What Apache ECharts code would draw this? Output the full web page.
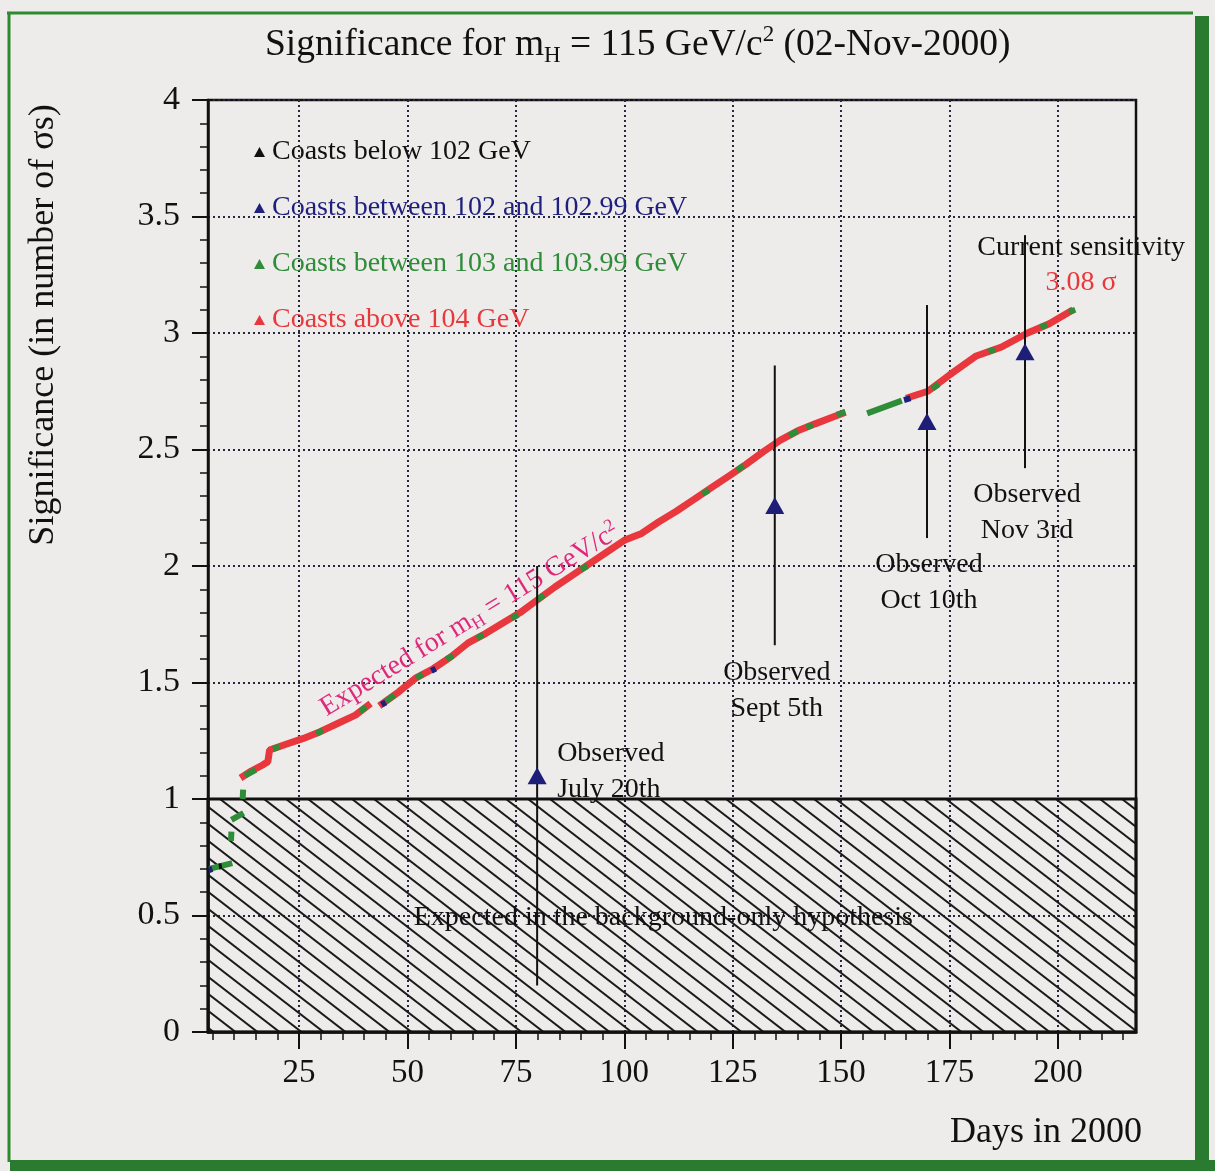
<!DOCTYPE html>
<html>
<head>
<meta charset="utf-8">
<script src="https://cdn.jsdelivr.net/npm/echarts@6/dist/echarts.min.js"></script>
<style>
html,body{margin:0;padding:0;background:#edecea;}
#c{width:1215px;height:1171px;}
</style>
</head>
<body>
<div id="c"></div>
<script>
// ---------------- DATA ----------------
const xMin = 4, xMax = 218;
const xTicks = [25, 50, 75, 100, 125, 150, 175, 200];
const xMinorTicks = [5,10,15,20,25,30,35,40,45,50,55,60,65,70,75,80,85,90,95,100,105,110,115,120,125,130,135,140,145,150,155,160,165,170,175,180,185,190,195,200,205,210,215];
const yMin = 0, yMax = 4, yStep = 0.5;

const seriesNames = ['Coasts below 102 GeV', 'Coasts between 102 and 102.99 GeV', 'Coasts between 103 and 103.99 GeV', 'Coasts above 104 GeV'];

// expected significance, coasts above 104 GeV (null = gap)
const redDays = [11.5, 14, 16.5, 17.8, 18.2, 22, 26, 30, 34, 38, 41.5, null, 43.5, 48, 52, 56, 60, 64, 68, 72, 76, 80, 84, 88, 92, 96, 100, 104, 108, 112, 116, 120, 124, 128, 132, 136, 140, 144, 147.5, 151, null, 165, 170, 175, 181, 187, 193, 198, 203.5];
const redSig  = [1.09, 1.12, 1.145, 1.16, 1.21, 1.235, 1.26, 1.29, 1.325, 1.36, 1.41, null, 1.40, 1.46, 1.52, 1.56, 1.61, 1.67, 1.71, 1.755, 1.80, 1.855, 1.91, 1.96, 2.01, 2.06, 2.11, 2.14, 2.19, 2.235, 2.285, 2.335, 2.385, 2.435, 2.49, 2.54, 2.58, 2.61, 2.635, 2.66, null, 2.72, 2.75, 2.82, 2.90, 2.94, 3.00, 3.04, 3.10];

// coasts between 103 and 103.99 GeV
const greenDays = [4.3, 9.6, null, 9.3, 9.4, null, 9.4, 12.2, null, 12.0, 12.1, null, 12.5, 15, null, 19, 20.5, null, 29, 30.5, null, 39, 40.5, null, 45, 47, null, 52, 53.5, null, 59, 60.5, null, 66, 67.5, null, 74, 75.5, null, 80, 81.5, null, 90, 91.5, null, 118, 119.5, null, 126, 127.5, null, 138, 140, null, 142, 143.5, null, 149, 151, null, 156, 164, null, 171, 172.5, null, 184, 185.5, null, 196, 197.5, null, 202.5, 204];
const greenSig  = [0.70, 0.725, null, 0.82, 0.86, null, 0.91, 0.94, null, 1.00, 1.04, null, 1.10, 1.125, null, 1.215, 1.225, null, 1.28, 1.295, null, 1.375, 1.395, null, 1.42, 1.445, null, 1.52, 1.535, null, 1.60, 1.615, null, 1.69, 1.705, null, 1.775, 1.79, null, 1.855, 1.875, null, 1.985, 2.0, null, 2.31, 2.325, null, 2.41, 2.43, null, 2.56, 2.58, null, 2.595, 2.605, null, 2.65, 2.66, null, 2.655, 2.71, null, 2.76, 2.78, null, 2.92, 2.93, null, 3.025, 3.035, null, 3.09, 3.10];

// coasts between 102 and 102.99 GeV
const blueDays = [4.2, 5.0, null, 44, 45, null, 55.5, 56.5, null, 164.5, 166];
const blueSig  = [0.695, 0.70, null, 1.405, 1.415, null, 1.55, 1.56, null, 2.712, 2.72];

// coasts below 102 GeV
const blackDays = [6.5, 7.2];
const blackSig  = [0.71, 0.712];

// observed significances with error bars
const obsDays   = [79.9, 134.7, 169.8, 192.4];
const obsSig    = [1.10, 2.26, 2.62, 2.92];
const obsErr    = [0.90, 0.60, 0.50, 0.50];
const obsLabels = ['July 20th', 'Sept 5th', 'Oct 10th', 'Nov 3rd'];

const currentSens = 3.08;
const bgBand = [0, 1];

// ---------------- STYLE ----------------
const FONT = '"Liberation Serif", "DejaVu Serif", serif';
const C_RED = '#e8383d', C_GREEN = '#2f8c38', C_BLUE = '#1f1f7d', C_BLACK = '#111111';
const GRID_LINE = {color: '#26263e', width: 2, type: [2, 3]};

function pairs(days, vals) {
  return days.map((d, i) => (d == null || vals[i] == null) ? ['-', '-'] : [d, vals[i]]);
}

function makeHatch() {
  const W = 22, H = 17;
  const c = document.createElement('canvas');
  c.width = W; c.height = H;
  const g = c.getContext('2d');
  g.strokeStyle = '#1a1a1a';
  g.lineWidth = 2;
  for (const dx of [-W, 0, W]) {
    g.beginPath();
    g.moveTo(dx - W, -H);
    g.lineTo(dx + 2 * W, 2 * H);
    g.stroke();
  }
  return c;
}

const chart = echarts.init(document.getElementById('c'), null, {renderer: 'canvas'});
const lastIdx = redDays.length - 1;

const option = {
  backgroundColor: '#edecea',
  animation: false,
  textStyle: {fontFamily: FONT},
  title: {
    text: '{a|Significance for m}{s|H}{a| = 115 GeV/c}{p|2}{a| (02-Nov-2000)}',
    left: 265, top: 23, padding: 0,
    textStyle: {
      fontWeight: 'normal',
      rich: {
        a: {fontSize: 37.5, fontFamily: FONT, fontWeight: 'normal', color: '#111', lineHeight: 44},
        s: {fontSize: 23, fontFamily: FONT, fontWeight: 'normal', color: '#111', lineHeight: 25, verticalAlign: 'bottom'},
        p: {fontSize: 23, fontFamily: FONT, fontWeight: 'normal', color: '#111', lineHeight: 25, verticalAlign: 'top'}
      }
    }
  },
  legend: {
    orient: 'vertical', left: 249, top: 133,
    icon: 'triangle', itemWidth: 11, itemHeight: 10, itemGap: 28,
    selectedMode: false,
    textStyle: {fontSize: 28, fontFamily: FONT, lineHeight: 28, padding: [0, 0, 0, 2]},
    data: [
      {name: seriesNames[0], textStyle: {color: C_BLACK}},
      {name: seriesNames[1], textStyle: {color: C_BLUE}},
      {name: seriesNames[2], textStyle: {color: C_GREEN}},
      {name: seriesNames[3], textStyle: {color: C_RED}}
    ]
  },
  grid: {left: 208, right: 79, top: 100, bottom: 139, show: true, borderColor: '#111', borderWidth: 2.5, backgroundColor: 'transparent'},
  xAxis: [
    {
      type: 'value', min: xMin, max: xMax, position: 'bottom',
      axisLine: {show: true, onZero: false, lineStyle: {color: '#111', width: 2.5}},
      axisTick: {show: true, inside: false, length: 17, customValues: xTicks, lineStyle: {color: '#111', width: 2}},
      axisLabel: {show: true, customValues: xTicks, margin: 25, fontSize: 33, fontFamily: FONT, color: '#111'},
      splitLine: {show: true, lineStyle: GRID_LINE}
    },
    {
      type: 'value', min: xMin, max: xMax, position: 'bottom', gridIndex: 0,
      axisLine: {show: false},
      axisTick: {show: true, inside: false, length: 8, customValues: xMinorTicks, lineStyle: {color: '#111', width: 1.5}},
      axisLabel: {show: false},
      splitLine: {show: false}
    }
  ],
  yAxis: {
    type: 'value', min: yMin, max: yMax, interval: yStep,
    axisLine: {show: true, onZero: false, lineStyle: {color: '#111', width: 2.5}},
    axisTick: {show: true, inside: false, length: 16, lineStyle: {color: '#111', width: 2}},
    minorTick: {show: true, splitNumber: 5, length: 8, lineStyle: {color: '#111', width: 1.5}},
    axisLabel: {margin: 28, fontSize: 34, fontFamily: FONT, color: '#111'},
    splitLine: {show: true, lineStyle: GRID_LINE}
  },
  series: [
    {
      name: 'background', type: 'line', data: [], z: 1, silent: true,
      markArea: {
        silent: true,
        itemStyle: {color: {image: makeHatch(), repeat: 'repeat'}, borderColor: '#111', borderWidth: 3},
        data: [[{coord: [xMin, bgBand[0]]}, {coord: [xMax, bgBand[1]]}]]
      },
      markPoint: {
        silent: true, symbol: 'circle', symbolSize: 0,
        data: [
          {
            coord: [109, (bgBand[0] + bgBand[1]) / 2 - 0.01],
            label: {show: true, position: 'inside', formatter: 'Expected in the background-only hypothesis',
                    fontSize: 28, fontFamily: FONT, color: '#111'}
          },
          {
            coord: [64.4, 1.768],
            label: {
              show: true, position: 'inside', rotate: 31.5,
              formatter: '{a|Expected for m}{s|H}{a| = 115 GeV/c}{p|2}',
              rich: {
                a: {fontSize: 28, fontFamily: FONT, color: '#e0287a', lineHeight: 32},
                s: {fontSize: 18, fontFamily: FONT, color: '#e0287a', lineHeight: 18, verticalAlign: 'bottom'},
                p: {fontSize: 18, fontFamily: FONT, color: '#e0287a', lineHeight: 18, verticalAlign: 'top'}
              }
            }
          }
        ]
      }
    },
    {
      name: seriesNames[3], type: 'line', z: 3,
      data: pairs(redDays, redSig), showSymbol: false, symbol: 'none', connectNulls: false,
      itemStyle: {color: C_RED}, lineStyle: {color: C_RED, width: 7},
      markPoint: {
        silent: true, symbol: 'circle', symbolSize: 0,
        data: [{coord: [redDays[lastIdx], redSig[lastIdx]]}],
        label: {
          show: true, position: 'top', distance: 10, offset: [8, 0], align: 'center',
          formatter: '{a|Current sensitivity}\n{b|' + currentSens.toFixed(2) + ' σ}',
          rich: {
            a: {fontSize: 28, fontFamily: FONT, color: '#111', lineHeight: 35, align: 'center'},
            b: {fontSize: 28, fontFamily: FONT, color: C_RED, lineHeight: 35, align: 'center'}
          }
        }
      }
    },
    {
      name: seriesNames[2], type: 'line', z: 4,
      data: pairs(greenDays, greenSig), showSymbol: false, symbol: 'none', connectNulls: false,
      itemStyle: {color: C_GREEN}, lineStyle: {color: C_GREEN, width: 6}
    },
    {
      name: seriesNames[1], type: 'line', z: 5,
      data: pairs(blueDays, blueSig), showSymbol: false, symbol: 'none', connectNulls: false,
      itemStyle: {color: C_BLUE}, lineStyle: {color: C_BLUE, width: 6}
    },
    {
      name: seriesNames[0], type: 'line', z: 5,
      data: pairs(blackDays, blackSig), showSymbol: false, symbol: 'none', connectNulls: false,
      itemStyle: {color: C_BLACK}, lineStyle: {color: C_BLACK, width: 6}
    },
    {
      name: 'Observed bars', type: 'custom', z: 6, silent: true,
      data: obsDays.map((d, i) => [d, obsSig[i], obsErr[i]]),
      encode: {x: 0, y: 1},
      renderItem: function (params, api) {
        const x = api.value(0), v = api.value(1), e = api.value(2);
        const top = api.coord([x, v + e]);
        const bot = api.coord([x, v - e]);
        const mid = api.coord([x, v]);
        const i = params.dataIndex;
        const txt = 'Observed\n' + obsLabels[i];
        const textStyle = {text: txt, fontSize: 28, fontFamily: FONT, fill: '#111', lineHeight: 36};
        let textEl;
        if (i === 0) {
          textEl = {type: 'text', style: Object.assign({x: mid[0] + 20, y: mid[1] - 4, align: 'left', verticalAlign: 'middle'}, textStyle)};
        } else {
          textEl = {type: 'text', style: Object.assign({x: bot[0] + 2, y: bot[1] + 9, align: 'center', verticalAlign: 'top'}, textStyle)};
        }
        return {
          type: 'group',
          children: [
            {type: 'line', shape: {x1: top[0], y1: top[1], x2: bot[0], y2: bot[1]}, style: {stroke: '#111', lineWidth: 2}},
            textEl
          ]
        };
      }
    },
    {
      name: 'Observed', type: 'scatter', z: 7, silent: true,
      data: obsDays.map((d, i) => [d, obsSig[i]]),
      symbol: 'triangle', symbolSize: [19, 17],
      itemStyle: {color: '#1e1e78', opacity: 1}
    }
  ],
  graphic: [
    {type: 'line', silent: true, shape: {x1: 7, y1: 13, x2: 1193, y2: 13}, style: {stroke: '#2f8a2f', lineWidth: 3}},
    {type: 'line', silent: true, shape: {x1: 9, y1: 12, x2: 9, y2: 1162}, style: {stroke: '#2f8a2f', lineWidth: 3}},
    {type: 'rect', silent: true, shape: {x: 1195, y: 16, width: 14, height: 1155}, style: {fill: '#2a7a2f'}},
    {type: 'rect', silent: true, shape: {x: 10, y: 1160, width: 1205, height: 11}, style: {fill: '#2a7a2f'}},
    {type: 'text', silent: true, x: 44, y: 325, rotation: Math.PI / 2,
     style: {text: 'Significance (in number of σs)', fontSize: 36, fontFamily: FONT, fill: '#111', align: 'center', verticalAlign: 'middle'}},
    {type: 'text', silent: true, x: 1142, y: 1133,
     style: {text: 'Days in 2000', fontSize: 36, fontFamily: FONT, fill: '#111', align: 'right', verticalAlign: 'middle'}}
  ]
};
chart.setOption(option);
</script>
</body>
</html>
